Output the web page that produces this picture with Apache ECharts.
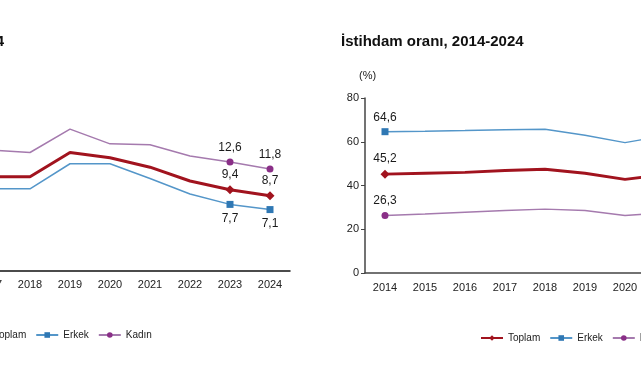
<!DOCTYPE html>
<html>
<head>
<meta charset="utf-8">
<script src="https://cdn.jsdelivr.net/npm/echarts@6/dist/echarts.min.js"></script>
<style>
html,body{margin:0;padding:0;background:#fff;overflow:hidden;width:641px;height:380px;}
#chart{position:absolute;left:-200px;top:0;width:1041px;height:380px;}
</style>
</head>
<body>
<div id="chart"></div>
<script>
var years = ['2014','2015','2016','2017','2018','2019','2020','2021','2022','2023','2024'];
var seriesNames = ['Toplam','Erkek','Kadın'];

// İşsizlik oranı (%)
var unempTotal  = [9.9, 10.3, 10.9, 10.9, 10.9, 13.7, 13.1, 12.0, 10.4, 9.4, 8.7];
var unempMale   = [9.0, 9.3, 9.6, 9.5, 9.5, 12.4, 12.4, 10.7, 8.9, 7.7, 7.1];
var unempFemale = [11.9, 12.6, 13.6, 14.0, 13.7, 16.4, 14.7, 14.6, 13.3, 12.6, 11.8];

// İstihdam oranı (%)
var empTotal  = [45.2, 45.6, 46.0, 46.9, 47.4, 45.6, 42.8, 45.0, 47.5, 48.3, 49.2];
var empMale   = [64.6, 64.8, 65.1, 65.5, 65.7, 63.0, 59.6, 62.8, 65.0, 65.7, 65.8];
var empFemale = [26.3, 27.0, 27.8, 28.6, 29.2, 28.6, 26.3, 27.5, 30.1, 31.1, 31.9];

var unempTicks = [0, 5, 10, 15, 20];
var empTicks = [0, 20, 40, 60, 80];

var leftMarked = [0, 9, 10];
var rightMarked = [0, 10];

var COL_T = '#a1131e', COL_E_LINE = '#5496c9', COL_E_MK = '#2f78b4', COL_K_LINE = '#a57aae', COL_K_MK = '#8a2f87';

function fmt(v){ return String(v).replace('.', ','); }

function buildData(arr, marked){
  return arr.map(function(v, i){
    if (marked.indexOf(i) >= 0) return {value: v};
    return {value: v, symbol: 'none', label: {show: false}};
  });
}

function mkSeries(name, arr, marked, axisIdx, pos){
  var st = {
    Toplam: {line: COL_T, mk: COL_T, w: 3, sym: 'diamond', size: 9},
    Erkek:  {line: COL_E_LINE, mk: COL_E_MK, w: 1.5, sym: 'rect', size: 7},
    'Kadın': {line: COL_K_LINE, mk: COL_K_MK, w: 1.5, sym: 'circle', size: 7}
  }[name];
  return {
    name: name, type: 'line',
    xAxisIndex: axisIdx, yAxisIndex: axisIdx,
    data: buildData(arr, marked),
    symbol: st.sym, symbolSize: st.size,
    showAllSymbol: true,
    lineStyle: {color: st.line, width: st.w},
    itemStyle: {color: st.mk},
    label: {show: true, position: pos, color: '#1a1a1a', fontSize: 12, fontFamily: 'Liberation Sans, Arial, sans-serif',
      formatter: function(p){ return fmt(p.value); }},
    emphasis: {disabled: true},
    animation: false
  };
}

var chart = echarts.init(document.getElementById('chart'), null, {renderer: 'canvas'});
var font = 'Liberation Sans, Arial, sans-serif';

chart.setOption({
  backgroundColor: '#fff',
  animation: false,
  grid: [
    {left: 50, top: 98, width: 440, height: 173},
    {left: 565, top: 98, width: 440, height: 175}
  ],
  xAxis: [
    {type: 'category', gridIndex: 0, data: years, boundaryGap: true,
      axisLine: {lineStyle: {color: '#111', width: 1.5}}, axisTick: {show: false},
      axisLabel: {color: '#222', fontSize: 11, fontFamily: font, margin: 8}},
    {type: 'category', gridIndex: 1, data: years, boundaryGap: true,
      axisLine: {lineStyle: {color: '#444', width: 1.5}}, axisTick: {show: false},
      axisLabel: {color: '#222', fontSize: 11, fontFamily: font, margin: 9}}
  ],
  yAxis: [
    {type: 'value', gridIndex: 0, min: unempTicks[0], max: unempTicks[unempTicks.length-1], interval: 5,
      splitLine: {show: false},
      axisLine: {show: true, lineStyle: {color: '#444', width: 1.5}},
      axisTick: {show: true, inside: false, length: 4, lineStyle: {color: '#444'}},
      axisLabel: {color: '#222', fontSize: 11, fontFamily: font, margin: 6}},
    {type: 'value', gridIndex: 1, min: empTicks[0], max: empTicks[empTicks.length-1], interval: 20,
      splitLine: {show: false},
      axisLine: {show: true, lineStyle: {color: '#444', width: 1.5}},
      axisTick: {show: true, inside: false, length: 4, lineStyle: {color: '#444'}},
      axisLabel: {color: '#222', fontSize: 11, fontFamily: font, margin: 6}}
  ],
  legend: [
    {data: seriesNames, left: 161, top: 325, itemWidth: 22, itemHeight: 7, itemGap: 9,
      textStyle: {color: '#222', fontSize: 10, fontFamily: font}, selectedMode: false},
    {data: seriesNames, left: 675, top: 328, itemWidth: 22, itemHeight: 7, itemGap: 9,
      textStyle: {color: '#222', fontSize: 10, fontFamily: font}, selectedMode: false}
  ],
  graphic: [
    {type: 'text', left: 'auto', right: 837, top: 34,
      style: {text: 'İşsizlik oranı, 2014-2024', fill: '#111', font: 'bold 15px Liberation Sans, Arial, sans-serif'}},
    {type: 'text', left: 541, top: 34,
      style: {text: 'İstihdam oranı, 2014-2024', fill: '#111', font: 'bold 15px Liberation Sans, Arial, sans-serif'}},
    {type: 'text', left: 41, top: 70,
      style: {text: '(%)', fill: '#222', font: '11px Liberation Sans, Arial, sans-serif'}},
    {type: 'text', left: 559, top: 70,
      style: {text: '(%)', fill: '#222', font: '11px Liberation Sans, Arial, sans-serif'}}
  ],
  series: [
    mkSeries('Toplam', unempTotal, leftMarked, 0, 'top'),
    mkSeries('Erkek', unempMale, leftMarked, 0, 'bottom'),
    mkSeries('Kadın', unempFemale, leftMarked, 0, 'top'),
    mkSeries('Toplam', empTotal, rightMarked, 1, 'top'),
    mkSeries('Erkek', empMale, rightMarked, 1, 'top'),
    mkSeries('Kadın', empFemale, rightMarked, 1, 'top')
  ]
});
</script>
</body>
</html>
